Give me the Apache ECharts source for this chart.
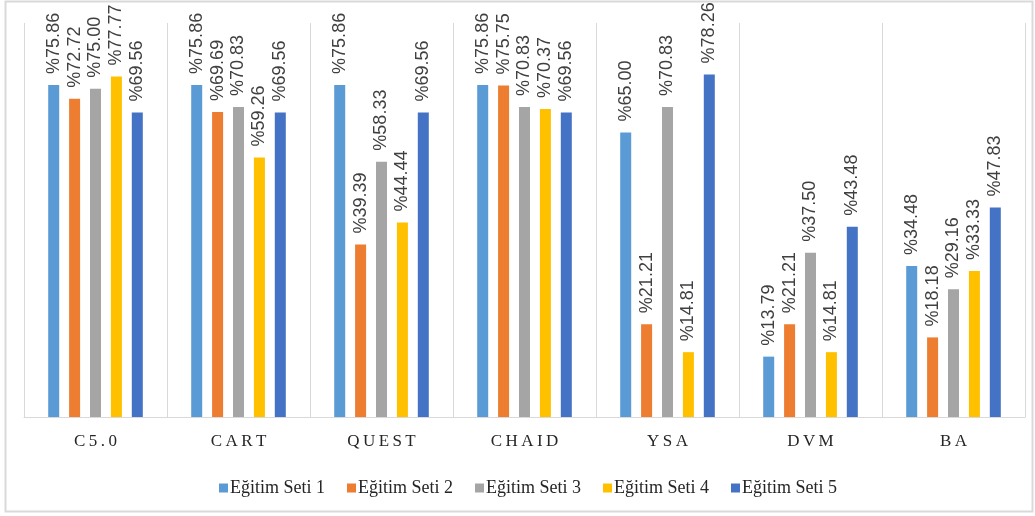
<!DOCTYPE html>
<html>
<head>
<meta charset="utf-8">
<script src="https://cdn.jsdelivr.net/npm/echarts@6/dist/echarts.min.js"></script>
<style>
  html, body { margin: 0; padding: 0; background: #fff; }
  #chart { width: 1035px; height: 516px; }
</style>
</head>
<body>
<div id="chart"></div>
<script>
// Model names on the category axis
const categories = ['C5.0', 'CART', 'QUEST', 'CHAID', 'YSA', 'DVM', 'BA'];

// Accuracy (%) per training set
const seriesNames = ['Eğitim Seti 1', 'Eğitim Seti 2', 'Eğitim Seti 3', 'Eğitim Seti 4', 'Eğitim Seti 5'];
const set1 = [75.86, 75.86, 75.86, 75.86, 65.00, 13.79, 34.48];
const set2 = [72.72, 69.69, 39.39, 75.75, 21.21, 21.21, 18.18];
const set3 = [75.00, 70.83, 58.33, 70.83, 70.83, 37.50, 29.16];
const set4 = [77.77, 59.26, 44.44, 70.37, 14.81, 14.81, 33.33];
const set5 = [69.56, 69.56, 69.56, 69.56, 78.26, 43.48, 47.83];

const colors = ['#5B9BD5', '#ED7D31', '#A5A5A5', '#FFC000', '#4472C4'];
const allSets = [set1, set2, set3, set4, set5];

const chart = echarts.init(document.getElementById('chart'), null, { renderer: 'canvas' });

const series = allSets.map((vals, i) => ({
  name: seriesNames[i],
  type: 'bar',
  data: vals,
  barWidth: 11,
  barGap: '90%',
  itemStyle: { color: colors[i] },
  label: {
    show: true,
    position: 'top',
    rotate: 90,
    align: 'left',
    verticalAlign: 'middle',
    distance: 11,
    fontFamily: 'Liberation Sans, Arial, sans-serif',
    fontSize: 18,
    color: '#404040',
    formatter: p => '%' + p.value.toFixed(2)
  }
}));

chart.setOption({
  animation: false,
  color: colors,
  graphic: [{
    type: 'rect',
    shape: { x: 5.5, y: 1.5, width: 1027, height: 510 },
    style: { fill: 'none', stroke: '#d9d9d9', lineWidth: 2 },
    silent: true
  }],
  grid: { left: 24, right: 10, top: 23, bottom: 99, containLabel: false },
  legend: {
    data: seriesNames,
    left: 214,
    top: 474,
    icon: 'rect',
    itemWidth: 9,
    itemHeight: 9,
    itemGap: 22,
    textStyle: { fontFamily: 'Liberation Serif, Times New Roman, serif', fontSize: 18, color: '#262626', padding: [0, 0, 0, -3] }
  },
  xAxis: {
    type: 'category',
    data: categories,
    boundaryGap: true,
    axisLine: { show: true, lineStyle: { color: '#d9d9d9', width: 1 } },
    axisTick: { show: false },
    splitLine: { show: true, lineStyle: { color: '#d9d9d9', width: 1 } },
    axisLabel: {
      margin: 16,
      fontFamily: 'Liberation Serif, Times New Roman, serif',
      fontSize: 17,
      color: '#262626',
      formatter: v => v.split('').join('\u2009')
    }
  },
  yAxis: {
    type: 'value',
    min: 0,
    max: 90,
    show: false,
    splitLine: { show: false }
  },
  series: series
});
</script>
</body>
</html>
